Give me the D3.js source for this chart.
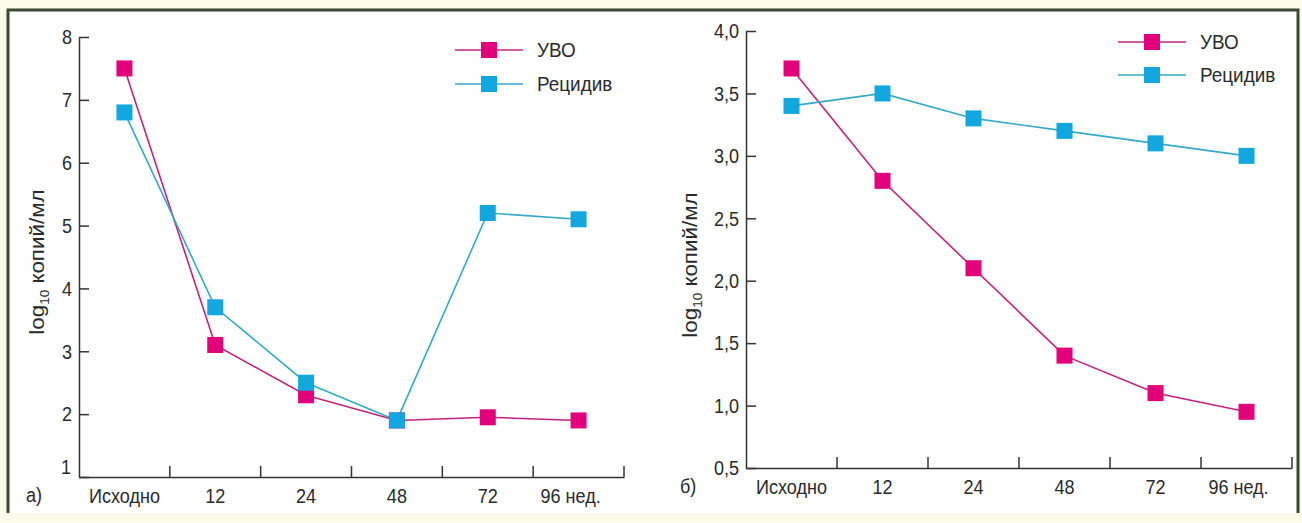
<!DOCTYPE html>
<html><head><meta charset="utf-8">
<script src="https://cdn.jsdelivr.net/npm/d3@7"></script>
<style>
html,body{margin:0;padding:0;background:#fbfbe9;}
svg{display:block;}
text{font-family:"Liberation Sans",Arial,sans-serif;fill:#2a2a2a;}
</style></head>
<body>
<svg id="c" width="1302" height="523"></svg>
<script>
const categories = ["Исходно","12","24","48","72","96 нед."];
const seriesNames = ["УВО","Рецидив"];
// panel а
const uvoA = [7.5, 3.1, 2.3, 1.9, 1.95, 1.9];
const relA = [6.8, 3.7, 2.5, 1.9, 5.2, 5.1];
const ticksA = [1,2,3,4,5,6,7,8];
// panel б
const uvoB = [3.7, 2.8, 2.1, 1.4, 1.1, 0.95];
const relB = [3.4, 3.5, 3.3, 3.2, 3.1, 3.0];
const ticksB = [0.5,1.0,1.5,2.0,2.5,3.0,3.5,4.0];

const markerCol = ["#e3007b","#12a7df"];
const lineCol = ["#c4237c","#35a9c6"];
const axisCol = "#333";
const SX = 0.86, FS = 21;

const svg = d3.select("#c");
svg.append("rect").attr("x",8).attr("y",10).attr("width",1290).attr("height",503).attr("fill","#ffffff");
svg.append("path").attr("d","M8,513 V10 H1298 V513").attr("fill","none").attr("stroke","#3b4832").attr("stroke-width",3);

function panel(opt){
  const g = svg.append("g");
  const x = d3.scaleBand().domain(categories).range(opt.xr).paddingInner(0).paddingOuter(0);
  const y = d3.scaleLinear().domain(opt.yd).range(opt.yr);
  // y axis
  const ya = d3.axisLeft(y).tickValues(opt.ticks).tickSize(-10).tickSizeOuter(0).tickPadding(7)
     .tickFormat(opt.fmt);
  const gy = g.append("g").attr("transform",`translate(${opt.xr[0]},0)`).call(ya);
  gy.select(".domain").attr("stroke",axisCol).attr("stroke-width",1.5);
  gy.selectAll(".tick line").attr("stroke",axisCol).attr("stroke-width",1.5);
  gy.selectAll(".tick text").attr("font-size",FS).attr("fill","#2a2a2a")
    .attr("x",-7/SX).attr("transform",`scale(${SX},1)`);
  if(opt.raiseFirst){
    gy.selectAll(".tick text").filter(d=>d===opt.yd[0]).attr("dy","-0.15em").attr("x",-8/SX);
  }
  // x axis
  const xa = d3.axisBottom(x).tickSize(0).tickPadding(11);
  const gx = g.append("g").attr("transform",`translate(0,${opt.yr[0]})`).call(xa);
  gx.select(".domain").attr("stroke",axisCol).attr("stroke-width",1.5);
  gx.selectAll(".tick text").attr("font-size",FS).attr("fill","#2a2a2a")
    .attr("transform",`scale(${SX},1)`)
    .attr("x",d=>d===categories[categories.length-1]?-8/SX:0);
  // boundary ticks
  g.selectAll(".bt").data(categories).enter().append("line")
    .attr("x1",d=>x(d)+x.bandwidth()).attr("x2",d=>x(d)+x.bandwidth())
    .attr("y1",opt.yr[0]).attr("y2",opt.yr[0]-11)
    .attr("stroke",axisCol).attr("stroke-width",1.5);
  // y label
  const lx = opt.labelX, ly = opt.labelY;
  const t = g.append("text").attr("transform",`translate(${lx},${ly}) rotate(-90) scale(1.12,1)`)
    .attr("text-anchor","middle").attr("font-size",20);
  t.append("tspan").text("log");
  t.append("tspan").text("10").attr("font-size",12).attr("dy",5);
  t.append("tspan").text(" копий/мл").attr("dy",-5);
  // panel letter
  g.append("text").attr("transform",`translate(${opt.letterX},${opt.yr[0]+25}) scale(${SX},1)`).attr("font-size",FS).text(opt.letter);
  // series
  const data = [opt.uvo, opt.rel];
  const line = d3.line().x((d,i)=>x(categories[i])+x.bandwidth()/2).y(d=>y(d));
  data.forEach((s,k)=>{
    g.append("path").datum(s).attr("d",line).attr("fill","none").attr("stroke",lineCol[k]).attr("stroke-width",1.6);
  });
  data.forEach((s,k)=>{
    g.selectAll(".m"+k).data(s).enter().append("rect")
      .attr("x",(d,i)=>x(categories[i])+x.bandwidth()/2-8).attr("y",d=>y(d)-8)
      .attr("width",16).attr("height",16).attr("fill",markerCol[k]);
  });
  // legend
  seriesNames.forEach((n,k)=>{
    const yy = opt.legY + k*opt.legDy;
    g.append("line").attr("x1",opt.legX).attr("x2",opt.legX+68).attr("y1",yy).attr("y2",yy)
      .attr("stroke",lineCol[k]).attr("stroke-width",1.6);
    g.append("rect").attr("x",opt.legX+34-8).attr("y",yy-8).attr("width",16).attr("height",16).attr("fill",markerCol[k]);
    g.append("text").attr("transform",`translate(${opt.legX+82},${yy}) scale(0.9,1)`).attr("dy","0.35em").attr("font-size",FS).text(n);
  });
}

panel({xr:[79,624], yd:[1,8], yr:[477,37], ticks:ticksA, fmt:d3.format("d"), raiseFirst:true,
  uvo:uvoA, rel:relA, labelX:44, labelY:262, letter:"а)", letterX:26, legX:455, legY:50, legDy:34});
panel({xr:[746,1292], yd:[0.5,4.0], yr:[468,31], ticks:ticksB, fmt:d=>d3.format(".1f")(d).replace(".",","), raiseFirst:false,
  uvo:uvoB, rel:relB, labelX:697, labelY:265, letter:"б)", letterX:680, legX:1118, legY:42, legDy:33});
</script>
</body></html>
